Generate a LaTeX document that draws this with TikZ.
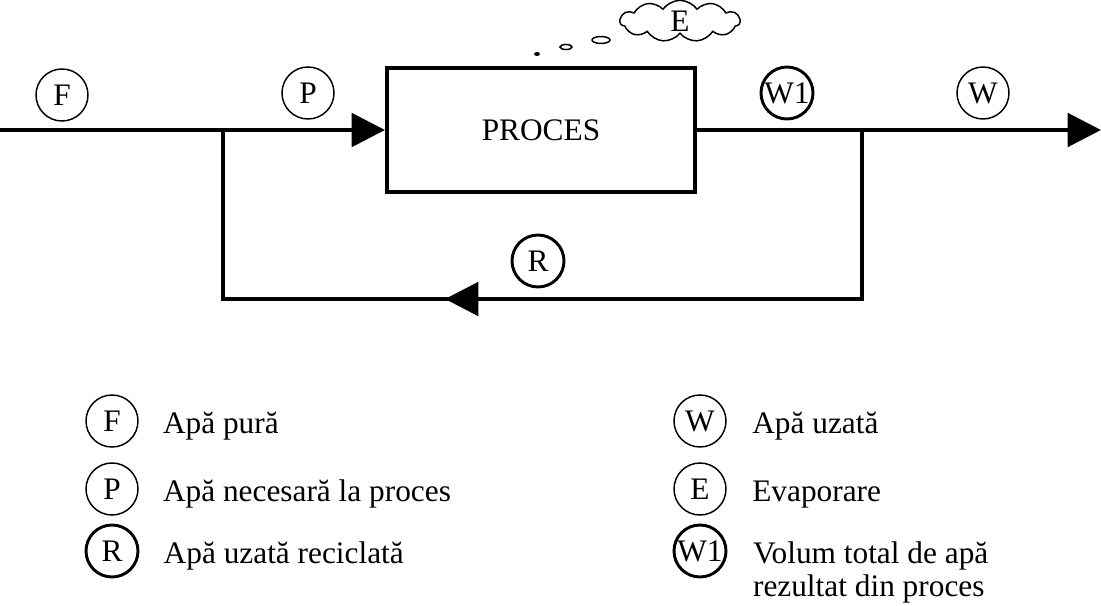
\documentclass[tikz,border=0pt]{standalone}
\usepackage{fontspec}
\setmainfont{Liberation Serif}
\usetikzlibrary{arrows.meta, positioning, shapes.symbols}

\begin{document}
\begin{tikzpicture}[x=0.75pt, y=-0.75pt,
  font=\fontsize{23.5}{27}\selectfont,
  flow/.style={line width=3pt},
  tip/.style={-{Triangle[length=25pt, width=25pt]}},
  tag/.style={circle, draw, line width=1.1pt, inner sep=0pt, minimum size=39pt},
  tagbold/.style={tag, line width=2.2pt},
  legtext/.style={anchor=west, inner sep=0pt, align=left, text height=20pt, text depth=2pt}]
  \useasboundingbox (0,0) rectangle (1101,606);

  \node[draw, line width=3pt, minimum width=231pt, minimum height=93pt] (proc) at (541,130) {PROCES};

  \coordinate (src) at (0,130);
  \coordinate (split) at (223,130);
  \coordinate (join) at (862,130);
  \coordinate (out) at (1101,130);
  \coordinate (retR) at (862,299);
  \coordinate (retL) at (223,299);
  \coordinate (retmid) at (445,299);

  % main flow
  \draw[flow, tip] (src) -- (proc.west);
  \draw[flow] (proc.east) -- (join);
  \draw[flow, tip] (join) -- (out);
  % recycle loop
  \draw[flow, line join=miter] (join) -- (retR) -- (retL) -- (split);
  \draw[flow, tip] (retR) -- (retmid);

  \node[tag] (f) at (62,95) {F};
  \node[tag] (p) at (308,93) {P};
  \node[tagbold] (w1) at (787,93) {W1};
  \node[tag] (w) at (983,93) {W};
  \node[tagbold] (r) at (538,261) {R};

  % evaporation
  \node[cloud, draw, line width=1.1pt, cloud puffs=11, cloud puff arc=110, inner sep=0pt,
        minimum width=90pt, minimum height=31pt] (e) at (680,21) {E};
  \draw[line width=1.1pt] (601,40) ellipse (6.75pt and 2.6pt);
  \draw[line width=1.1pt] (566,47) ellipse (4.5pt and 1.9pt);
  \fill (537,54) ellipse (2.2pt and 1.5pt);

  % legend
  \node[tag] (kf) at (112,421) {F};
  \node[tag] (kp) at (112,489) {P};
  \node[tagbold] (kr) at (112,551) {R};
  \node[legtext, right=18pt of kf] (tf) {Apă pură};
  \node[legtext, right=18pt of kp] (tp) {Apă necesară la proces};
  \node[legtext, right=18pt of kr] (tr) {Apă uzată reciclată};

  \node[tag] (kw) at (700,421) {W};
  \node[tag] (ke) at (700,489) {E};
  \node[tagbold] (kw1) at (700,551) {W1};
  \node[legtext, right=19pt of kw] (tw) {Apă uzată};
  \node[legtext, right=19pt of ke] (te) {Evaporare};
  \node[legtext, right=19pt of kw1] (tw1) {Volum total de apă};
  \node[legtext, below=2.5pt of tw1.south west, anchor=north west] (tw1b) {rezultat din proces};
\end{tikzpicture}
\end{document}
